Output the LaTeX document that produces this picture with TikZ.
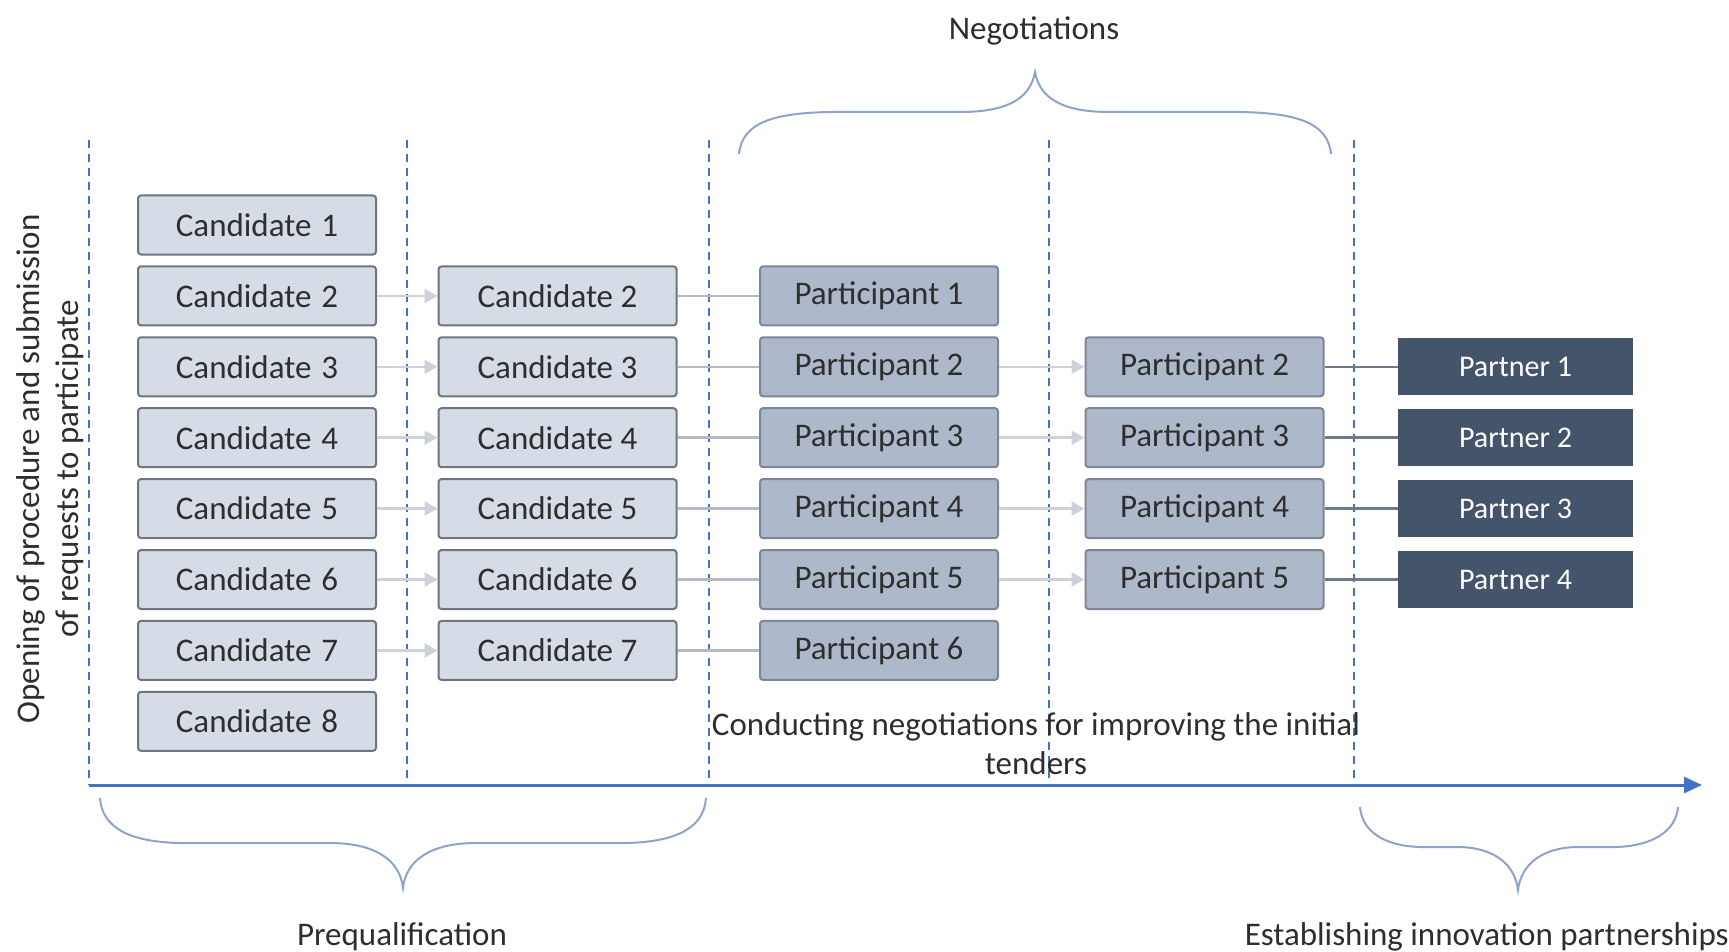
\documentclass[tikz,border=0pt]{standalone}
\usepackage{fontspec}
\setmainfont{Carlito}
\usetikzlibrary{arrows.meta}
\definecolor{candfill}{HTML}{D6DCE5}
\definecolor{candline}{HTML}{6E7480}
\definecolor{partfill}{HTML}{ADB9CA}
\definecolor{partline}{HTML}{7D8694}
\definecolor{partnerfill}{HTML}{44546A}
\definecolor{axisblue}{HTML}{4472C4}
\definecolor{bracecol}{HTML}{8EA3CC}
\definecolor{txt}{HTML}{2E2E2E}
\definecolor{lightarrow}{HTML}{CDD2DA}
\definecolor{midline}{HTML}{B5BBC4}
\definecolor{darkline}{HTML}{6F7885}
\tikzset{
  boxbase/.style={minimum width=238pt, minimum height=59pt, inner sep=0pt, text=txt,
    font=\fontsize{33}{38}\selectfont},
  cand/.style={boxbase, fill=candfill, draw=candline, line width=2pt, rounded corners=3pt},
  part/.style={boxbase, fill=partfill, draw=partline, line width=2pt, rounded corners=3pt},
  partner/.style={boxbase, minimum width=235pt, minimum height=57pt, fill=partnerfill, text=white,
    font=\fontsize{30}{36}\selectfont},
  lightarr/.style={draw=lightarrow, line width=2.5pt, -{Triangle[length=13pt,width=14pt]}},
  midconn/.style={draw=midline, line width=2.5pt},
  darkconn/.style={draw=darkline, line width=2.5pt},
  divider/.style={draw=axisblue, line width=2.8pt, dash pattern=on 8pt off 6pt},
  axisline/.style={draw=axisblue, line width=3pt, -{Triangle[length=18pt,width=16pt]}},
  bracepath/.style={draw=bracecol, line width=2pt},
  lbl/.style={text=txt, font=\fontsize{33}{39}\selectfont, inner sep=0pt}
}
\begin{document}
\begin{tikzpicture}[x=1pt,y=-1pt]
\useasboundingbox (0,0) rectangle (1729,952);
% dividers
\foreach \i/\x in {1/89,2/407,3/709,4/1049,5/1354}{
  \coordinate (dt\i) at (\x,140);
  \coordinate (db\i) at (\x,785);
  \draw[divider] (dt\i) -- (db\i);
}
% axis
\coordinate (ax0) at (89,785);
\coordinate (ax1) at (1702,785);
\draw[axisline] (ax0) -- (ax1);
% boxes
\foreach \k in {1,...,8}
  \node[cand] (a\k) at (257,{225+(\k-1)*70.9}) {Candidate\hspace{0.3em}\k};
\foreach \k in {2,...,7}
  \node[cand] (b\k) at (557.5,{225+(\k-1)*70.9}) {Candidate \k};
\foreach \j in {1,...,6}
  \node[part] (p\j) at (879,{225+\j*70.9}) {Participant \j};
\foreach \j in {2,...,5}
  \node[part] (q\j) at (1204.5,{225+\j*70.9}) {Participant \j};
\foreach \m in {1,...,4}
  \node[partner] (r\m) at (1515.5,{225+(\m+1)*70.9}) {Partner \m};
% connectors
\foreach \k in {2,...,7}
  \draw[lightarr] (a\k.east) -- (b\k.west);
\foreach \k [evaluate=\k as \j using int(\k-1)] in {2,...,7}
  \draw[midconn] (b\k.east) -- (p\j.west);
\foreach \j in {2,...,5}
  \draw[lightarr] (p\j.east) -- (q\j.west);
\foreach \j [evaluate=\j as \m using int(\j-1)] in {2,...,5}
  \draw[darkconn] (q\j.east) -- (r\m.west);
% braces
\draw[bracepath] (739,154) .. controls (742,122) and (775,113) .. (830,112) -- (960,112)
  .. controls (1005,112) and (1030,100) .. (1035,72)
  .. controls (1040,100) and (1065,112) .. (1110,112) -- (1240,112)
  .. controls (1295,113) and (1328,122) .. (1331,154);
\draw[bracepath] (100,798) .. controls (102,828) and (130,842) .. (180,843) -- (330,843)
  .. controls (375,843) and (400,860) .. (403,888)
  .. controls (406,860) and (431,843) .. (476,843) -- (626,843)
  .. controls (676,842) and (704,828) .. (706,798);
\draw[bracepath] (1360,807) .. controls (1362,832) and (1385,846) .. (1420,847) -- (1460,847)
  .. controls (1495,848) and (1515,865) .. (1518,890)
  .. controls (1521,865) and (1541,848) .. (1576,847) -- (1616,847)
  .. controls (1651,846) and (1676,832) .. (1678,807);
% labels
\node[lbl] (neg) at (1034,31) {Negotiations};
\node[lbl] (preq) at (402,937) {Prequalification};
\node[lbl, anchor=east] (estab) at (1729,937) {Establishing innovation partnerships};
\node[lbl, rotate=90, align=center] (open) at (50,469) {Opening of procedure and submission\\of requests to participate};
\node[lbl, align=center] (conduct) at (1036,744) {Conducting negotiations for improving the initial\\tenders};
\end{tikzpicture}
\end{document}
